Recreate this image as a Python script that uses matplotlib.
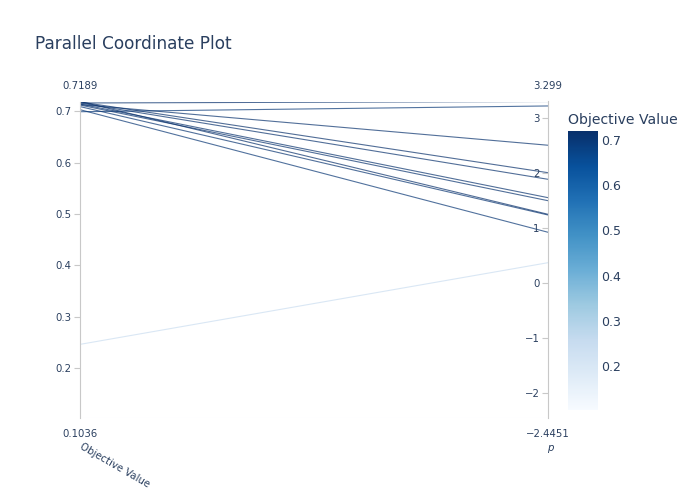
import numpy as np
import matplotlib as mpl
mpl.use('Agg')
import matplotlib.pyplot as plt

plt.rcParams['font.family'] = ['DejaVu Sans']

# trials: objective value and parameter p
objective = [0.716, 0.699, 0.713, 0.718, 0.716, 0.714, 0.712, 0.7189, 0.709, 0.703, 0.246, 0.1036]
p_values = [3.299, 3.218, 2.504, 2.005, 1.885, 1.551, 1.496, 1.249, 1.236, 0.922, 0.369, -2.4451]
obj_ticks = [0.2, 0.3, 0.4, 0.5, 0.6, 0.7]
p_ticks = [-2, -1, 0, 1, 2, 3]
cbar_ticks = [0.2, 0.3, 0.4, 0.5, 0.6, 0.7]

txt = '#2a3f5f'
W, H = 700, 500
fig = plt.figure(figsize=(7, 5), dpi=100)

def box(x0, y0, x1, y1):
    return [x0 / W, 1 - y1 / H, (x1 - x0) / W, (y1 - y0) / H]

obj = np.array(objective)
pv = np.array(p_values)
omin, omax = obj.min(), obj.max()
pmin, pmax = pv.min(), pv.max()

ax = fig.add_axes(box(80, 101.5, 548, 417.5))
ax.set_xlim(0, 1)
ax.set_ylim(omin, omax)
for s in ['top', 'right', 'bottom']:
    ax.spines[s].set_visible(False)
ax.spines['left'].set_color('#c8c8c8')
ax.set_xticks([])
ax.set_yticks(obj_ticks)
ax.tick_params(axis='y', labelsize=7.3, labelcolor=txt, color='#c8c8c8', length=4, pad=2)

ax2 = ax.twinx()
ax2.set_ylim(pmin, pmax)
for s in ['top', 'right', 'bottom']:
    ax2.spines[s].set_visible(False)
ax2.spines['left'].set_position(('axes', 1.0))
ax2.spines['left'].set_color('#c8c8c8')
ax2.yaxis.set_ticks_position('left')
ax2.yaxis.set_label_position('left')
ax2.set_yticks(p_ticks)
ax2.set_yticklabels(['\u2212%d' % -t if t < 0 else str(t) for t in p_ticks])
ax2.tick_params(axis='y', labelsize=7.3, labelcolor=txt, color='#c8c8c8', length=4, pad=2)

cmap = plt.get_cmap('Blues')
norm = mpl.colors.Normalize(omin, omax)
# p mapped onto the objective scale so both ends share one axes
p_on_obj = omin + (pv - pmin) / (pmax - pmin) * (omax - omin)
order = np.argsort(obj)
for i in order:
    ax.plot([0, 1], [obj[i], p_on_obj[i]], '-', lw=0.8, color=cmap(norm(obj[i])), alpha=0.7)

# min/max labels and axis names
ax.text(0, 1.032, '%.4f' % omax, transform=ax.transAxes, ha='center', va='bottom', fontsize=7.3, color=txt)
ax.text(0, -0.035, '%.4f' % omin, transform=ax.transAxes, ha='center', va='top', fontsize=7.3, color=txt)
ax.text(1, 1.032, '%.3f' % pmax, transform=ax.transAxes, ha='center', va='bottom', fontsize=7.3, color=txt)
ax.text(1, -0.035, '\u2212%.4f' % -pmin, transform=ax.transAxes, ha='center', va='top', fontsize=7.3, color=txt)
ax.text(0.006, -0.075, 'Objective Value', transform=ax.transAxes, ha='left', va='top',
        rotation=-30, rotation_mode='anchor', fontsize=7.3, color=txt)
ax.text(1.005, -0.08, 'p', transform=ax.transAxes, ha='center', va='top', fontsize=7.3,
        color=txt, style='italic')

fig.text(35 / W, 1 - 44 / H, 'Parallel Coordinate Plot', ha='left', va='center', fontsize=12.2, color=txt)

cax = fig.add_axes(box(568, 131, 598, 410))
cb = fig.colorbar(mpl.cm.ScalarMappable(norm=norm, cmap=cmap), cax=cax)
cb.outline.set_visible(False)
cb.set_ticks(cbar_ticks)
cb.ax.tick_params(length=0, labelsize=9, labelcolor=txt, pad=2)
cax.set_title('Objective Value', fontsize=10.1, color=txt, loc='left', pad=5)

fig.savefig('out.png', dpi=100)
